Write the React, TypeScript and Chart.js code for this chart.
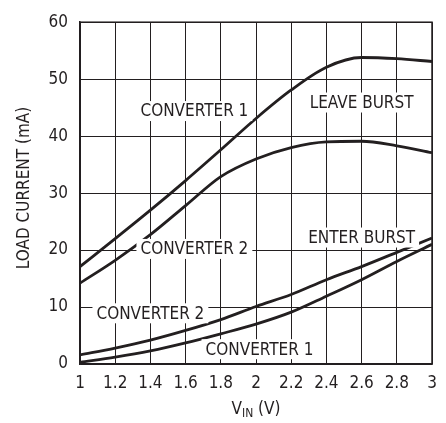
import React, { useEffect, useRef } from "react";
import { Chart, registerables } from "chart.js";

Chart.register(...registerables);

const vin = [1, 1.2, 1.4, 1.6, 1.8, 2, 2.2, 2.4, 2.6, 2.8, 3];
const leaveConv1 = [17.1, 22.0, 27.0, 32.2, 37.6, 43.1, 48.1, 52.1, 53.8, 53.6, 53.1];
const leaveConv2 = [14.2, 18.2, 22.7, 27.8, 32.9, 36.0, 38.0, 39.0, 39.1, 38.3, 37.1];
const enterConv2 = [1.6, 2.8, 4.2, 5.9, 7.8, 10.1, 12.2, 14.8, 17.1, 19.6, 22.1];
const enterConv1 = [0.3, 1.2, 2.3, 3.7, 5.3, 7.0, 9.1, 11.9, 14.8, 18.0, 21.0];

const xTicks = [1, 1.2, 1.4, 1.6, 1.8, 2, 2.2, 2.4, 2.6, 2.8, 3];
const yTicks = [0, 10, 20, 30, 40, 50, 60];

const labels = [
  { text: "CONVERTER 1", x: 1.65, y: 44.4 },
  { text: "LEAVE BURST", x: 2.6, y: 45.9 },
  { text: "CONVERTER 2", x: 1.65, y: 20.2 },
  { text: "CONVERTER 2", x: 1.4, y: 8.9 },
  { text: "CONVERTER 1", x: 2.02, y: 2.6 },
  { text: "ENTER BURST", x: 2.6, y: 22.2 },
];

const FONT = "'Liberation Sans Narrow', 'DejaVu Sans Condensed', 'Roboto', sans-serif";
const INK = "#231f20";

export default function App() {
  const ref = useRef<HTMLCanvasElement>(null);
  useEffect(() => {
    const mk = (d: number[]) => ({
      data: vin.map((x, i) => ({ x, y: d[i] })),
      borderColor: INK,
      borderWidth: 2.8,
      pointRadius: 0,
      fill: false,
      cubicInterpolationMode: "monotone" as const,
    });
    const annot = {
      id: "annot",
      afterDatasetsDraw(chart: any) {
        const { ctx, scales } = chart;
        ctx.save();
        ctx.font = `17px ${FONT}`;
        ctx.textAlign = "center";
        ctx.textBaseline = "middle";
        for (const l of labels) {
          const px = scales.x.getPixelForValue(l.x);
          const py = scales.y.getPixelForValue(l.y);
          const w = ctx.measureText(l.text).width;
          ctx.fillStyle = "#ffffff";
          ctx.fillRect(px - w / 2 - 4, py - 10, w + 8, 20);
          ctx.fillStyle = INK;
          ctx.fillText(l.text, px, py + 1);
        }
        // axis titles
        ctx.fillStyle = INK;
        const cx = (chart.chartArea.left + chart.chartArea.right) / 2;
        const ty = 410;
        ctx.font = `17px ${FONT}`;
        const w1 = ctx.measureText("V").width;
        ctx.font = `12px ${FONT}`;
        const w2 = ctx.measureText("IN").width;
        ctx.font = `17px ${FONT}`;
        const w3 = ctx.measureText(" (V)").width;
        let sx = cx - (w1 + w2 + w3) / 2;
        ctx.textAlign = "left";
        ctx.fillText("V", sx, ty);
        sx += w1;
        ctx.font = `12px ${FONT}`;
        ctx.fillText("IN", sx, ty + 4);
        sx += w2;
        ctx.font = `17px ${FONT}`;
        ctx.fillText(" (V)", sx, ty);
        ctx.translate(25, 188);
        ctx.rotate(-Math.PI / 2);
        ctx.textAlign = "center";
        ctx.fillText("LOAD CURRENT (mA)", 0, 0);
        ctx.restore();
      },
    };
    const chart = new Chart(ref.current!, {
      type: "line",
      data: { datasets: [mk(leaveConv1), mk(leaveConv2), mk(enterConv2), mk(enterConv1)] },
      options: {
        animation: false,
        responsive: false,
        layout: { padding: { top: 13, right: 14, left: 0, bottom: 0 } },
        plugins: { legend: { display: false }, tooltip: { enabled: false } },
        scales: {
          x: {
            type: "linear",
            min: 1,
            max: 3,
            afterFit: (s: any) => { s.height = 59; },
            afterBuildTicks: (s: any) => { s.ticks = xTicks.map((v) => ({ value: v })); },
            grid: { color: INK, lineWidth: 1, drawTicks: false },
            border: { color: INK, width: 1.5 },
            ticks: {
              padding: 9,
              color: INK,
              font: { family: FONT, size: 17 },
              maxRotation: 0,
              callback: (v: any) => String(Math.round(Number(v) * 10) / 10),
            },
          },
          y: {
            type: "linear",
            min: 0,
            max: 60,
            afterFit: (s: any) => { s.width = 80; },
            afterBuildTicks: (s: any) => { s.ticks = yTicks.map((v) => ({ value: v })); },
            grid: { color: INK, lineWidth: 1, drawTicks: false },
            border: { color: INK, width: 1.5 },
            ticks: {
              padding: 12,
              color: INK,
              font: { family: FONT, size: 17 },
            },
          },
        },
      },
      plugins: [
        annot,
        {
          id: "frame",
          beforeDatasetsDraw(chart: any) {
            const { ctx, chartArea: a } = chart;
            ctx.save();
            ctx.strokeStyle = INK;
            ctx.lineWidth = 1.5;
            ctx.strokeRect(a.left, a.top, a.right - a.left, a.bottom - a.top);
            ctx.restore();
          },
        },
      ],
    } as any);
    return () => chart.destroy();
  }, []);
  return (
    <div style={{ position: "absolute", left: 0, top: 0, background: "#fff" }}>
      <canvas ref={ref} width={446} height={423} style={{ width: 446, height: 423, display: "block" }} />
    </div>
  );
}
